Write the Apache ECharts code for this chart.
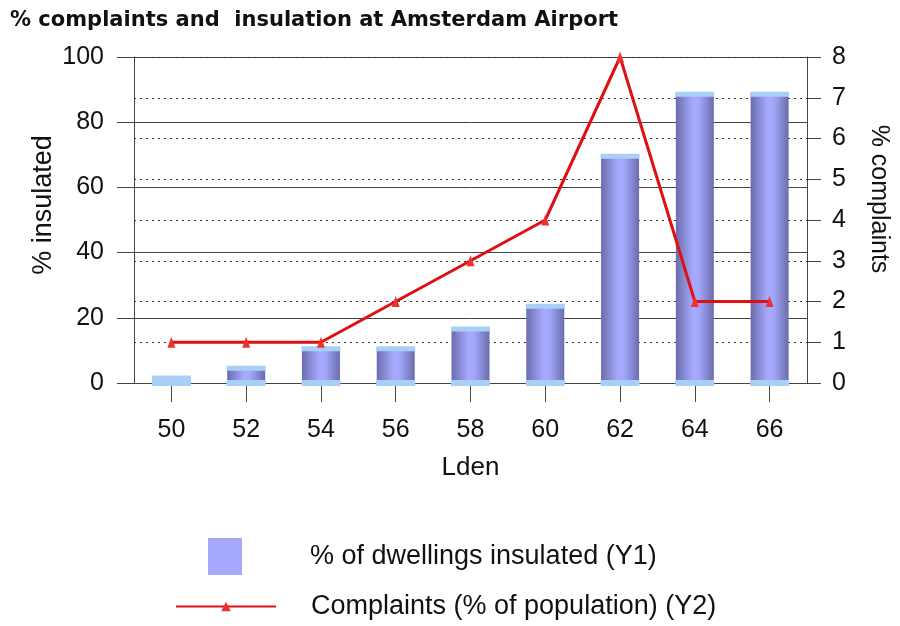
<!DOCTYPE html>
<html>
<head>
<meta charset="utf-8">
<script src="https://cdn.jsdelivr.net/npm/echarts@6/dist/echarts.min.js"></script>
<style>html,body{margin:0;padding:0;background:#fff;}#c{width:900px;height:626px;}</style>
</head>
<body>
<div id="c"></div>
<script>
var categories = ['50', '52', '54', '56', '58', '60', '62', '64', '66'];
var insulated = [2, 5, 11, 11, 17, 24, 70, 89, 89];
var complaints = [1, 1, 1, 2, 3, 4, 8, 2, 2];
var leftTicks = [0, 20, 40, 60, 80, 100];
var rightTicks = [0, 1, 2, 3, 4, 5, 6, 7, 8];

var FONT = "'Liberation Sans', Arial, sans-serif";
var nameBar = '% of dwellings insulated (Y1)';
var nameLine = 'Complaints (% of population) (Y2)';

var chart = echarts.init(document.getElementById('c'), null, {renderer: 'canvas'});
chart.setOption({
  animation: false,
  backgroundColor: '#fff',
  title: {
    text: '% complaints and  insulation at Amsterdam Airport',
    left: 5, top: 5, padding: 5,
    textStyle: {fontFamily: "'DejaVu Sans', sans-serif", fontWeight: 'bold', fontSize: 21, color: '#111'}
  },
  grid: {left: 134, right: 93, top: 57, bottom: 243, containLabel: false, outerBoundsMode: 'none'},
  legend: [
    {
      data: [{name: nameBar, icon: 'rect', itemStyle: {color: '#a6a9fb'}}],
      left: 208, top: 538, orient: 'vertical', padding: 0,
      itemWidth: 34, itemHeight: 37, selectedMode: false,
      textStyle: {fontFamily: FONT, fontSize: 27, color: '#111', padding: [0, 0, 0, 63]}
    },
    {
      data: [nameLine],
      left: 175, top: 593, orient: 'vertical', padding: 0,
      itemWidth: 100, itemHeight: 12, selectedMode: false,
      textStyle: {fontFamily: FONT, fontSize: 27, color: '#111', padding: [0, 0, 0, 30]}
    }
  ],
  xAxis: {
    type: 'category',
    data: categories,
    name: 'Lden',
    nameLocation: 'middle',
    nameGap: 72,
    nameMoveOverlap: false,
    nameTextStyle: {fontFamily: FONT, fontSize: 26, color: '#111'},
    axisLine: {show: true, lineStyle: {color: '#444', width: 1}},
    axisTick: {show: true, alignWithLabel: true, length: 19, lineStyle: {color: '#444'}},
    axisLabel: {fontFamily: FONT, fontSize: 25, color: '#111', margin: 35},
    splitLine: {show: false}
  },
  yAxis: [
    {
      type: 'value', min: 0, max: 100, interval: 20,
      name: '% insulated', nameLocation: 'middle', nameGap: 77, nameRotate: 90,
      nameMoveOverlap: false,
      nameTextStyle: {fontFamily: FONT, fontSize: 27, color: '#111', padding: [0, 0, 0, 30]},
      axisLine: {show: true, lineStyle: {color: '#444', width: 1}},
      axisTick: {show: true, length: 17, lineStyle: {color: '#444'}},
      axisLabel: {fontFamily: FONT, fontSize: 25, color: '#111', margin: 30,
        formatter: function (v) { return leftTicks.indexOf(v) >= 0 ? String(v) : ''; }},
      splitLine: {show: true, lineStyle: {color: '#444', width: 1, type: 'solid'}}
    },
    {
      type: 'value', min: 0, max: 8, interval: 1, position: 'right',
      name: '% complaints', nameLocation: 'middle', nameGap: 59, nameRotate: -90,
      nameMoveOverlap: false,
      nameTextStyle: {fontFamily: FONT, fontSize: 25, color: '#111', padding: [0, 42, 0, 0]},
      axisLine: {show: true, lineStyle: {color: '#444', width: 1}},
      axisTick: {show: true, length: 14, lineStyle: {color: '#444'}},
      axisLabel: {fontFamily: FONT, fontSize: 25, color: '#111', margin: 25,
        formatter: function (v) { return rightTicks.indexOf(v) >= 0 ? String(v) : ''; }},
      splitLine: {show: true, lineStyle: {color: '#333', width: 1, type: [2, 4]}}
    }
  ],
  series: [
    {
      name: nameBar,
      type: 'bar',
      yAxisIndex: 0,
      data: insulated,
      barWidth: 38,
      barGap: '-100%',
      z: 3,
      itemStyle: {
        color: new echarts.graphic.LinearGradient(0, 0, 1, 0, [
          {offset: 0, color: '#6b6cae'},
          {offset: 0.45, color: '#a6aafc'},
          {offset: 0.6, color: '#a4a8fa'},
          {offset: 1, color: '#6b6cae'}
        ])
      }
    },
    {
      name: 'capTop',
      type: 'pictorialBar',
      yAxisIndex: 0,
      data: insulated,
      symbol: 'rect',
      symbolSize: [39, 5],
      symbolPosition: 'end',
      symbolOffset: [0, -1],
      barGap: '-100%',
      z: 4,
      itemStyle: {color: '#a8d0f6'},
      silent: true
    },
    {
      name: 'capBottom',
      type: 'pictorialBar',
      yAxisIndex: 0,
      data: insulated,
      symbol: 'rect',
      symbolSize: [39, 6],
      symbolPosition: 'start',
      symbolOffset: [0, '50%'],
      barGap: '-100%',
      z: 4,
      itemStyle: {color: '#a8d0f6'},
      silent: true
    },
    {
      name: nameLine,
      type: 'line',
      yAxisIndex: 1,
      data: complaints,
      symbol: 'triangle',
      symbolSize: [8, 11],
      z: 6,
      itemStyle: {color: '#f03030'},
      lineStyle: {color: '#dd1111', width: 3}
    }
  ]
});
</script>
</body>
</html>
